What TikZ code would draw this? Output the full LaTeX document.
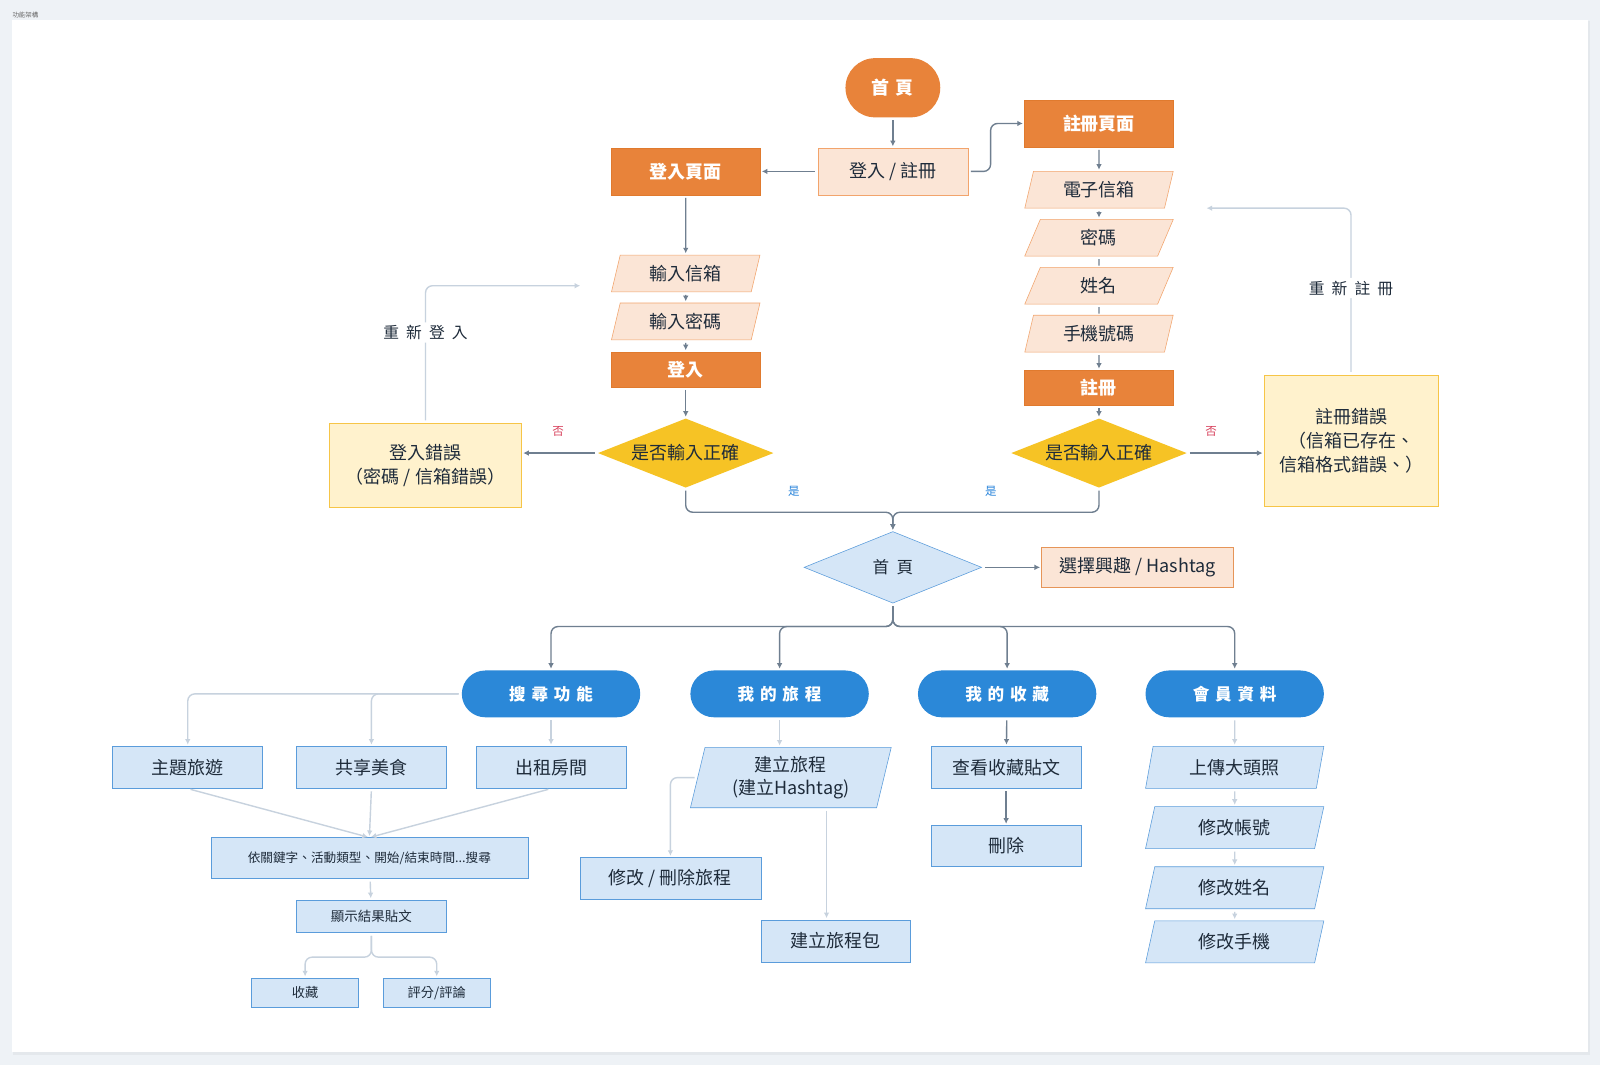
\documentclass[tikz,border=0pt]{standalone}
\usepackage{fontspec}
\setmainfont{Noto Sans CJK TC}
\newfontfamily\widefont[LetterSpace=35]{Noto Sans CJK TC}
\newfontfamily\loosefont[LetterSpace=45]{Noto Sans CJK TC}
\usetikzlibrary{shapes.geometric,arrows.meta}

\definecolor{pageBg}{HTML}{EEF2F6}
\definecolor{ink}{HTML}{1E2B3A}
\definecolor{orangeF}{HTML}{E8833A}
\definecolor{orangeD}{HTML}{E07A2E}
\definecolor{peachF}{HTML}{FBE5D6}
\definecolor{peachD}{HTML}{F2A46C}
\definecolor{goldF}{HTML}{F6C325}
\definecolor{creamF}{HTML}{FFF2CD}
\definecolor{creamD}{HTML}{F6C547}
\definecolor{blueF}{HTML}{2B88D8}
\definecolor{skyF}{HTML}{D5E6F7}
\definecolor{skyD}{HTML}{5A9CDB}
\definecolor{lineD}{HTML}{6F7F90}
\definecolor{lineL}{HTML}{C7D2DE}
\definecolor{noRed}{HTML}{D8415C}
\definecolor{yesBlue}{HTML}{2A85DB}

\tikzset{
	every node/.style={text=ink,inner sep=0pt,align=center,
		font=\fontsize{12.8}{16.8}\selectfont},
	orangebox/.style={rectangle,fill=orangeF,draw=orangeD,text=white,
		font=\fontsize{12.8}{15}\selectfont\bfseries,
		minimum width=3.72cm,minimum height=1.17cm},
	peachbox/.style={rectangle,fill=peachF,draw=peachD,minimum height=1.17cm},
	peachpara/.style={trapezium,trapezium left angle=74,trapezium right angle=106,
		trapezium stretches=true,fill=peachF,draw=peachD,
		minimum width=3.72cm,minimum height=0.92cm},
	golddia/.style={diamond,shape aspect=2.53,fill=goldF,
		minimum width=4.39cm,minimum height=1.73cm},
	errbox/.style={rectangle,fill=creamF,draw=creamD},
	pill/.style={rectangle,rounded corners=0.585cm,fill=blueF,text=white,
		font=\widefont\fontsize{11.8}{14}\selectfont\bfseries,
		minimum width=4.46cm,minimum height=1.17cm},
	skybox/.style={rectangle,fill=skyF,draw=skyD,
		minimum width=3.75cm,minimum height=1.05cm},
	skypara/.style={trapezium,trapezium left angle=76,trapezium right angle=104,
		trapezium stretches=true,fill=skyF,draw=skyD,
		minimum width=4.46cm,minimum height=1.05cm},
	flow/.style={draw=lineD,line width=1pt,-{Latex[length=4pt,width=4pt]},
		shorten <=2pt,shorten >=1pt},
	softflow/.style={draw=lineL,line width=1pt,-{Latex[length=4pt,width=4pt]},
		shorten <=2pt,shorten >=1pt},
	tag/.style={font=\fontsize{8.2}{9}\selectfont},
	looplabel/.style={fill=white,font=\loosefont\fontsize{11.2}{13}\selectfont,
		inner sep=2pt},
}

\begin{document}
\begin{tikzpicture}[x=0.02551cm,y=-0.02551cm]
	% page and panel
	\fill[pageBg] (0,0) rectangle (1568,1044);
	\fill[black,opacity=0.04] (13,21) rectangle (1558,1034);
	\fill[white] (12,20) rectangle (1556,1031);
	\node[anchor=west,text=black!60,font=\fontsize{4.6}{5}\selectfont]
	(title) at (12,15) {功能架構};
	
	% entry
	\node[rectangle,rounded corners=0.74cm,fill=orangeF,text=white,
	minimum width=2.37cm,minimum height=1.48cm,
	font=\widefont\fontsize{12.8}{15}\selectfont\bfseries] (home) at (875,86) {首頁};
	\node[peachbox,minimum width=3.75cm] (auth) at (875,168) {登入 / 註冊};
	\node[orangebox] (loginPg) at (672,168) {登入頁面};
	\node[orangebox] (regPg) at (1077,121) {註冊頁面};
	
	% login column
	\node[peachpara] (inMail) at (672,268) {輸入信箱};
	\node[peachpara] (inPwd) at (672,315) {輸入密碼};
	\node[orangebox,minimum height=0.87cm] (loginBtn) at (672,362) {登入};
	\node[golddia] (chkLogin) at (672,444) {是否輸入正確};
	\node[errbox,minimum width=4.8cm,minimum height=2.09cm] (loginErr)
	at (417,456) {登入錯誤\\（密碼 / 信箱錯誤）};
	
	% register column
	\node[peachpara] (regMail) at (1077,186) {電子信箱};
	\node[peachpara] (regPwd) at (1077,233) {密碼};
	\node[peachpara] (regName) at (1077,280) {姓名};
	\node[peachpara] (regPhone) at (1077,327) {手機號碼};
	\node[orangebox,minimum height=0.87cm] (regBtn) at (1077,380) {註冊};
	\node[golddia] (chkReg) at (1077,444) {是否輸入正確};
	\node[errbox,minimum width=4.34cm,minimum height=3.29cm] (regErr)
	at (1324,432) {註冊錯誤\\（信箱已存在、\\信箱格式錯誤、）};
	
	% hub
	\node[diamond,shape aspect=2.49,fill=skyF,draw=skyD,
	minimum width=4.44cm,minimum height=1.79cm,
	font=\loosefont\fontsize{11.8}{14}\selectfont] (hub) at (875,556) {首頁};
	\node[peachbox,draw=orangeD!80,minimum width=4.8cm,minimum height=1.02cm]
	(interest) at (1115,556) {選擇興趣 / Hashtag};
	
	\node[pill] (search) at (540,680) {搜尋功能};
	\node[pill] (trips) at (764,680) {我的旅程};
	\node[pill] (saved) at (987,680) {我的收藏};
	\node[pill] (member) at (1210,680) {會員資料};
	
	% search
	\node[skybox] (theme) at (184,752) {主題旅遊};
	\node[skybox] (food) at (364,752) {共享美食};
	\node[skybox] (rent) at (540,752) {出租房間};
	\node[skybox,minimum width=7.93cm,minimum height=1.02cm,
	font=\fontsize{9}{10}\selectfont] (kw) at (362,841)
	{依關鍵字、活動類型、開始/結束時間...搜尋};
	\node[skybox,minimum height=0.82cm,font=\fontsize{9.6}{11}\selectfont]
	(result) at (364,898) {顯示結果貼文};
	\node[skybox,minimum width=2.68cm,minimum height=0.74cm,
	font=\fontsize{9.4}{11}\selectfont] (fav) at (299,973) {收藏};
	\node[skybox,minimum width=2.68cm,minimum height=0.74cm,
	font=\fontsize{9.4}{11}\selectfont] (rate) at (428,973) {評分/評論};
	
	% trips
	\node[skypara,trapezium left angle=77,trapezium right angle=103,
	minimum width=5.03cm,minimum height=1.51cm] (mkTrip) at (775,762)
	{建立旅程\\(建立Hashtag)};
	\node[skybox,minimum width=4.52cm] (editTrip) at (657,861) {修改 / 刪除旅程};
	\node[skybox,minimum width=3.72cm] (pack) at (819,922) {建立旅程包};
	
	% saved
	\node[skybox] (viewFav) at (986,752) {查看收藏貼文};
	\node[skybox,minimum height=1.02cm] (delFav) at (986,829) {刪除};
	
	% member
	\node[skypara] (avatar) at (1210,752) {上傳大頭照};
	\node[skypara] (acct) at (1210,811) {修改帳號};
	\node[skypara] (nick) at (1210,870) {修改姓名};
	\node[skypara] (phone) at (1210,923) {修改手機};
	
	\coordinate (yesJ) at (875,502);
	\coordinate (brJ) at (875,614);
	\coordinate (resJ) at (364,938);
	\coordinate (packLine) at (810,0);
	\coordinate (reLoginEnd) at (570,280);
	\coordinate (reRegEnd) at (1181,204);
	
	% connectors
	\draw[flow] (home) -- (auth);
	\draw[flow] (auth) -- (loginPg);
	\draw[flow,rounded corners=5pt] (auth.east) -- ++(22,0) |- (regPg.west);
	\draw[flow] (loginPg) -- (inMail);
	\draw[flow] (inMail) -- (inPwd);
	\draw[flow] (inPwd) -- (loginBtn);
	\draw[flow] (loginBtn) -- (chkLogin);
	\draw[flow] (chkLogin.west) -- (chkLogin.west -| loginErr.east);
	\node[tag,text=noRed] (noLogin) at (547,423) {否};
	\draw[softflow,rounded corners=5pt] (loginErr.north) |- (reLoginEnd)
	node[looplabel,pos=0.33] (reLogin) {重新登入};
	
	\draw[flow] (regPg) -- (regMail);
	\draw[flow] (regMail) -- (regPwd);
	\draw[flow,-] (regPwd) -- (regName);
	\draw[flow,-] (regName) -- (regPhone);
	\draw[flow] (regPhone) -- (regBtn);
	\draw[flow] (regBtn) -- (chkReg);
	\draw[flow] (chkReg.east) -- (chkReg.east -| regErr.west);
	\node[tag,text=noRed] (noReg) at (1187,423) {否};
	\draw[softflow,rounded corners=5pt] (regErr.north) |- (reRegEnd)
	node[looplabel,pos=0.26] (reReg) {重新註冊};
	
	\draw[flow,rounded corners=5pt] (chkLogin.south) |- (yesJ) -- (hub.north);
	\draw[flow,rounded corners=5pt] (chkReg.south) |- (yesJ) -- (hub.north);
	\node[tag,text=yesBlue] (yesLogin) at (778,482) {是};
	\node[tag,text=yesBlue] (yesReg) at (971,482) {是};
	
	\draw[flow] (hub) -- (interest);
	\foreach \sec in {search,trips,saved,member}
	\draw[flow,rounded corners=5pt] (hub.south) -- (brJ) -| (\sec.north);
	
	\draw[softflow,rounded corners=5pt] (search.west) -| (theme.north);
	\draw[softflow,rounded corners=5pt] (search.west) -| (food.north);
	\draw[softflow] (search) -- (rent);
	\foreach \src in {theme,food,rent}
	\draw[softflow] (\src.south) -- (kw.north);
	\draw[softflow] (kw) -- (result);
	\draw[softflow,rounded corners=5pt] (result.south) -- (resJ) -| (fav.north);
	\draw[softflow,rounded corners=5pt] (result.south) -- (resJ) -| (rate.north);
	
	\draw[softflow] (trips) -- (mkTrip.north -| trips);
	\draw[softflow,rounded corners=5pt] (mkTrip.west) -| (editTrip.north);
	\draw[softflow] (mkTrip.south -| packLine) -- (pack.north -| packLine);
	
	\draw[flow] (saved) -- (viewFav);
	\draw[flow] (viewFav) -- (delFav);
	
	\draw[softflow] (member) -- (avatar);
	\draw[softflow] (avatar) -- (acct);
	\draw[softflow] (acct) -- (nick);
	\draw[softflow] (nick) -- (phone);
\end{tikzpicture}
\end{document}
